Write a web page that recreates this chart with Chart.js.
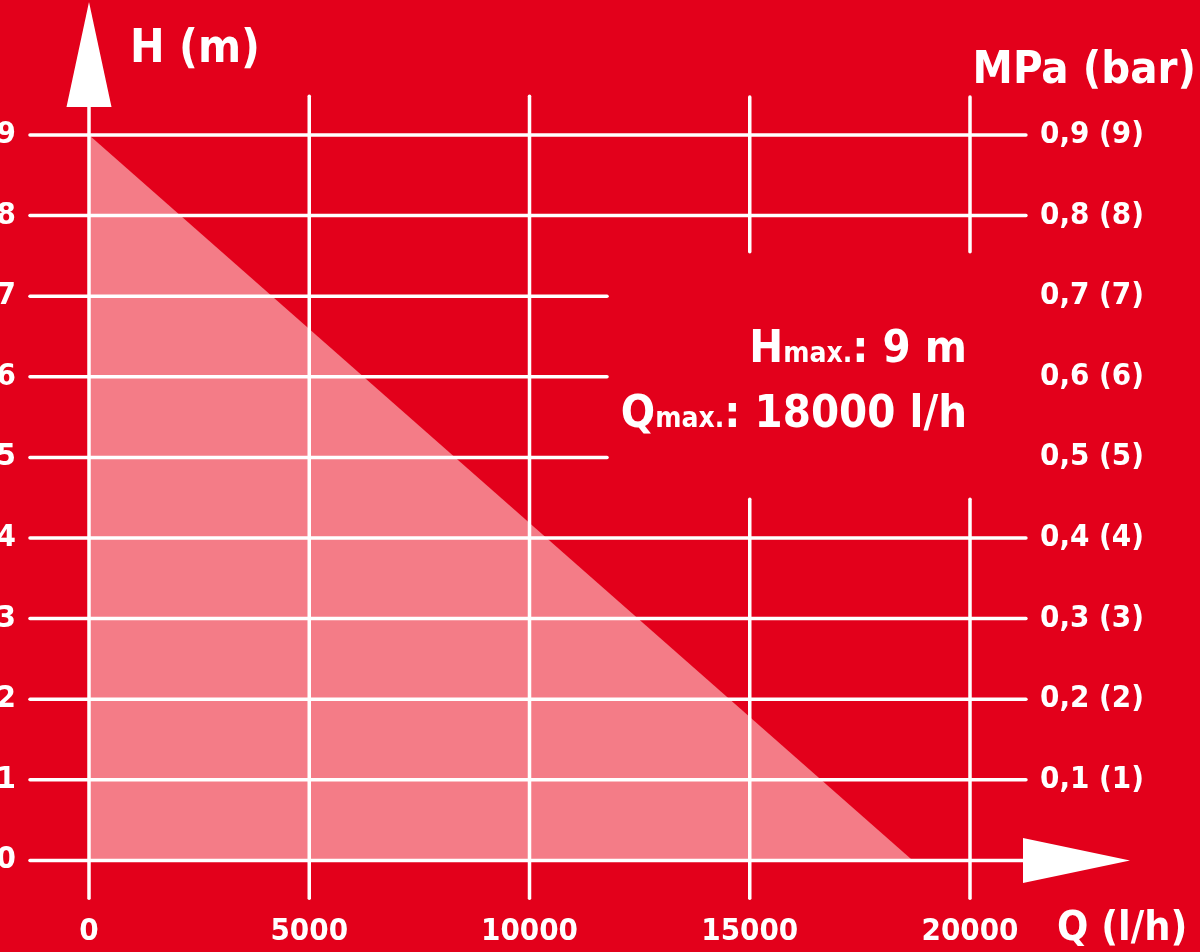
<!DOCTYPE html>
<html>
<head>
<meta charset="utf-8">
<title>H / Q pump curve</title>
<script src="https://cdn.jsdelivr.net/npm/chart.js@4.4.1/dist/chart.umd.min.js"></script>
<style>
  html, body { margin: 0; padding: 0; background: #e3001b; overflow: hidden; }
  canvas { display: block; }
</style>
</head>
<body>
<canvas id="pumpChart" width="1200" height="952"></canvas>
<script>
// ---- chart data ----
const flowTicks = [0, 5000, 10000, 15000, 20000];          // Q (l/h)
const headTicks = [0, 1, 2, 3, 4, 5, 6, 7, 8, 9];           // H (m)
const pressureLabels = ['', '0,1 (1)', '0,2 (2)', '0,3 (3)', '0,4 (4)',
  '0,5 (5)', '0,6 (6)', '0,7 (7)', '0,8 (8)', '0,9 (9)'];
const curveFlow = [0, 18700];
const curveHead = [9, 0];
const maxHead = '9 m';
const maxFlow = '18000 l/h';

const RED = '#e3001b';
const PINK = '#f47c87';
const WHITE = '#ffffff';
const FONT = "'Liberation Sans Narrow', 'DejaVu Sans Condensed', 'Roboto Condensed', 'Liberation Sans', sans-serif";

// Grid line extents (data units), some lines are cut short around the text
function hSpan(v) {
  if (v >= 5 && v <= 7) return [[-1340, 11760]];
  return [[-1340, 21270]];
}
function vSpan(v) {
  if (v === 0) return [[-0.47, 9.4]];
  if (v >= 15000) return [[-0.47, 4.48], [7.55, 9.47]];
  return [[-0.47, 9.48]];
}

// Background, white grid, arrows and titles
const pumpDecor = {
  id: 'pumpDecor',
  beforeDraw(chart) {
    const ctx = chart.ctx;
    ctx.save();
    ctx.fillStyle = RED;
    ctx.fillRect(0, 0, chart.width, chart.height);
    ctx.restore();
  },
  afterDatasetsDraw(chart) {
    const ctx = chart.ctx;
    const xs = chart.scales.x;
    const ys = chart.scales.y;

    ctx.save();
    ctx.strokeStyle = WHITE;
    ctx.lineWidth = 3.5;
    ctx.lineCap = 'round';

    headTicks.forEach(v => {
      const py = ys.getPixelForValue(v);
      hSpan(v).forEach(s => {
        ctx.beginPath();
        ctx.moveTo(xs.getPixelForValue(s[0]), py);
        ctx.lineTo(xs.getPixelForValue(s[1]), py);
        ctx.stroke();
      });
    });

    flowTicks.forEach(v => {
      const px = xs.getPixelForValue(v);
      vSpan(v).forEach(s => {
        ctx.beginPath();
        ctx.moveTo(px, ys.getPixelForValue(s[0]));
        ctx.lineTo(px, ys.getPixelForValue(s[1]));
        ctx.stroke();
      });
    });

    // axis arrows
    ctx.fillStyle = WHITE;
    const x0 = xs.getPixelForValue(0);
    const yTop = ys.getPixelForValue(9);
    ctx.beginPath();
    ctx.moveTo(x0, yTop - 133);
    ctx.lineTo(x0 + 22.5, yTop - 28);
    ctx.lineTo(x0 - 22.5, yTop - 28);
    ctx.closePath();
    ctx.fill();

    const y0 = ys.getPixelForValue(0);
    const xEnd = xs.getPixelForValue(20000);
    ctx.beginPath();
    ctx.moveTo(xEnd + 53, y0 - 22.5);
    ctx.lineTo(xEnd + 160, y0);
    ctx.lineTo(xEnd + 53, y0 + 22.5);
    ctx.closePath();
    ctx.fill();

    // axis titles
    ctx.textBaseline = 'alphabetic';
    ctx.font = 'bold 46px ' + FONT;
    ctx.textAlign = 'left';
    ctx.fillText('H (m)', 130, 62);
    ctx.font = 'bold 45px ' + FONT;
    ctx.textAlign = 'right';
    ctx.fillText('MPa (bar)', 1196, 83);
    ctx.font = 'bold 41px ' + FONT;
    ctx.textAlign = 'left';
    ctx.fillText('Q (l/h)', 1057, 940);

    // Hmax / Qmax note
    drawNote(ctx, [['H', 45], ['max.', 28], [': ' + maxHead, 45]], 967, 362);
    drawNote(ctx, [['Q', 45], ['max.', 28], [': ' + maxFlow, 45]], 967, 427);
    ctx.restore();
  }
};

function drawNote(ctx, parts, right, baseline) {
  let total = 0;
  parts.forEach(p => {
    ctx.font = 'bold ' + p[1] + 'px ' + FONT;
    total += ctx.measureText(p[0]).width;
  });
  let x = right - total;
  ctx.textAlign = 'left';
  parts.forEach(p => {
    ctx.font = 'bold ' + p[1] + 'px ' + FONT;
    ctx.fillText(p[0], x, baseline);
    x += ctx.measureText(p[0]).width;
  });
}

const tickFont = { family: FONT, size: 31, weight: 'bold' };

const pumpChart = new Chart(document.getElementById('pumpChart'), {
  type: 'line',
  data: {
    datasets: [{
      data: curveFlow.map((q, i) => ({ x: q, y: curveHead[i] })),
      fill: 'origin',
      backgroundColor: PINK,
      borderWidth: 0,
      pointRadius: 0,
      tension: 0
    }]
  },
  options: {
    responsive: false,
    animation: false,
    devicePixelRatio: 1,
    layout: { padding: { top: 135, left: 0, right: 0, bottom: 0 } },
    plugins: { legend: { display: false }, tooltip: { enabled: false } },
    scales: {
      x: {
        type: 'linear',
        position: 'bottom',
        min: 0,
        max: 20000,
        afterBuildTicks: s => { s.ticks = flowTicks.map(v => ({ value: v })); },
        afterFit: s => { s.height = 88; },
        grid: { display: false, drawTicks: false },
        border: { display: false },
        ticks: { color: WHITE, font: tickFont, padding: 53, maxRotation: 0, autoSkip: false,
          callback: v => String(v) }
      },
      y: {
        type: 'linear',
        position: 'left',
        min: 0,
        max: 9,
        afterBuildTicks: s => { s.ticks = headTicks.map(v => ({ value: v })); },
        afterFit: s => { s.width = 89; },
        grid: { display: false, drawTicks: false },
        border: { display: false },
        ticks: { color: WHITE, font: tickFont, padding: 73, autoSkip: false,
          callback: v => String(v) }
      },
      y2: {
        type: 'linear',
        position: 'right',
        min: 0,
        max: 9,
        afterBuildTicks: s => { s.ticks = headTicks.map(v => ({ value: v })); },
        afterFit: s => { s.width = 230; },
        grid: { display: false, drawTicks: false },
        border: { display: false },
        ticks: { color: WHITE, font: tickFont, padding: 70, autoSkip: false,
          callback: (v, i) => pressureLabels[i] }
      }
    }
  },
  plugins: [pumpDecor]
});
</script>
</body>
</html>
